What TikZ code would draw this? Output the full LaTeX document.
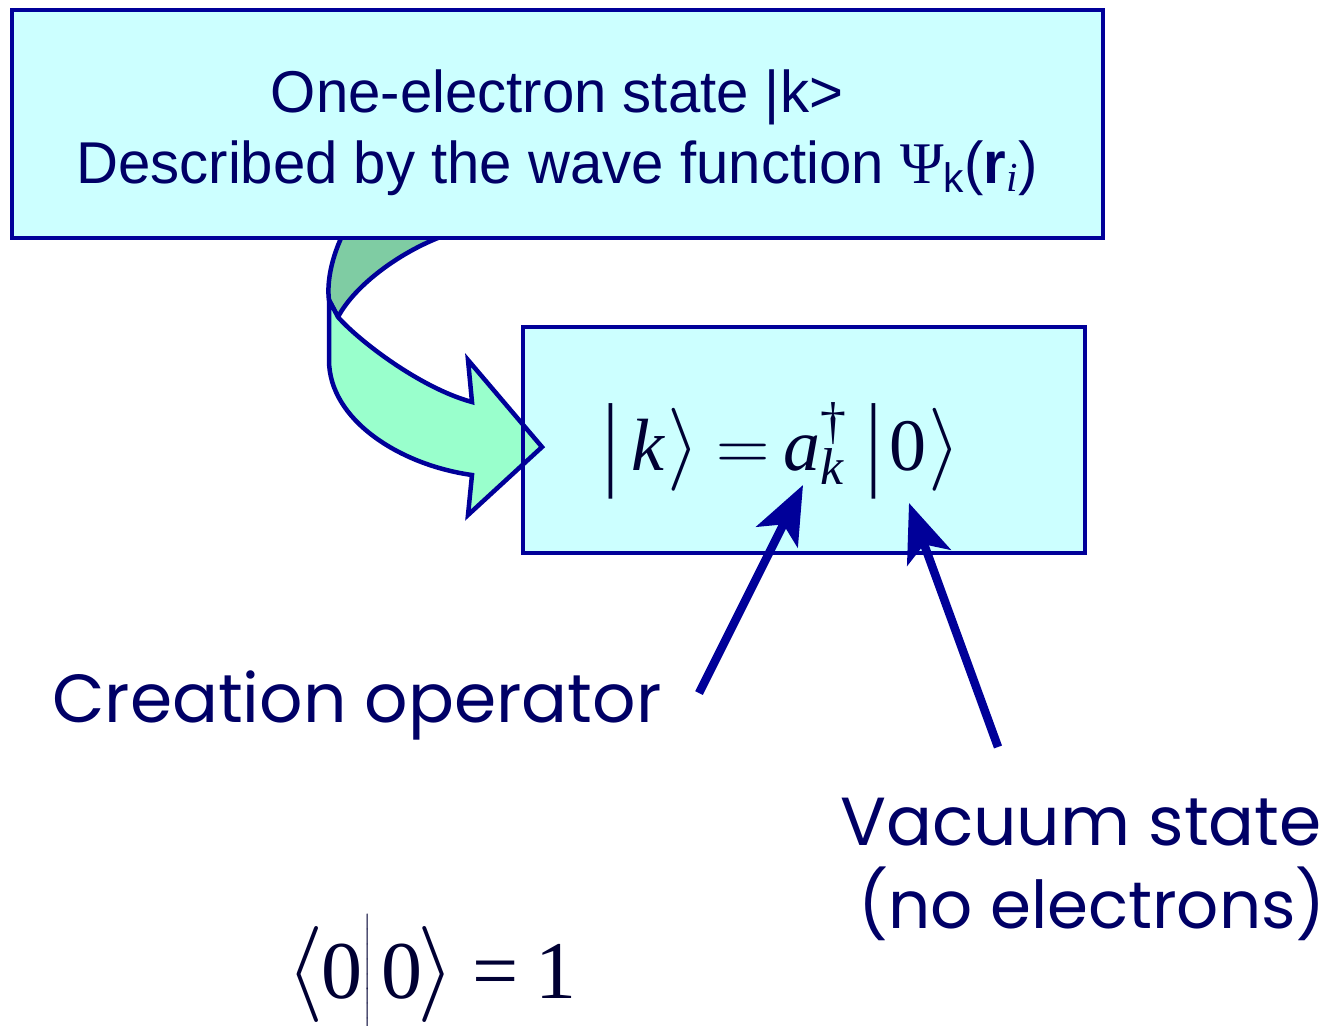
\RequirePackage{fix-cm}
\documentclass[tikz,border=0pt]{standalone}
\usepackage{amsmath}
\usepackage{graphicx}
\usepackage{fontspec}
\setmainfont{Liberation Serif}
\newfontfamily\arialn[FakeStretch=0.985]{Liberation Sans}
\newfontfamily\gothic{Poppins}
\newfontfamily\tms{Liberation Serif}
\usetikzlibrary{arrows.meta}
\definecolor{bordercol}{HTML}{000099}
\definecolor{boxfill}{HTML}{CCFFFF}
\definecolor{txtnavy}{HTML}{000066}
\definecolor{mathcol}{HTML}{000033}
\definecolor{ribbonlight}{HTML}{99FFCC}
\definecolor{ribbondark}{HTML}{7FCCA3}
\newcommand\dl[3]{\mbox{\fontsize{#1}{#1}\selectfont$\left#3\vcenter{\hbox{\rule{0pt}{#2pt}}}\right.$}}
\newcommand\tbar{\raisebox{-6pt}{\scalebox{1}[1.42]{|}}}
\begin{document}
\begin{tikzpicture}[x=1pt,y=-1pt,
  boxst/.style={draw=bordercol,line width=4.5pt,fill=boxfill,outer sep=0pt,inner sep=0pt,rectangle},
  boxline/.style={draw=bordercol,line width=4.5pt},
  ribbon/.style={draw=bordercol,line width=4.5pt,line join=miter},
  ptr/.style={draw=bordercol,line width=8.5pt,-{Stealth[length=58pt,width=46pt,inset=14pt]}},
  toptxt/.style={inner sep=0pt,text=txtnavy,font=\fontsize{59}{70}\arialn},
  lbl/.style={inner sep=0pt,text=txtnavy,font=\fontsize{68}{80}\gothic},
  eqst/.style={inner sep=0pt,text=mathcol}]
\useasboundingbox (0,0) rectangle (1329,1025);
% lower box
\node[boxst,minimum width=562pt,minimum height=226pt] (low) at (804,440) {};
% curved ribbon arrow
\fill[ribbondark,draw=bordercol,line width=4.5pt]
  (342,236) .. controls (330,262) and (327,285) .. (329,300) -- (338,317)
  .. controls (355,285) and (400,252) .. (443,236) -- cycle;
\filldraw[ribbon,fill=ribbonlight]
  (329,300) -- (329,360) .. controls (329,420) and (400,465) .. (472,475)
  -- (468,515) -- (542,447) -- (468,360) -- (472,402)
  .. controls (420,388) and (358,340) .. (338,317) -- cycle;
\draw[boxline] (low.north west) rectangle (low.south east);
% top box
\node[boxst,minimum width=1091pt,minimum height=228pt] (top) at (557.5,124) {};
\node[toptxt,anchor=base] (t1) at (557,112) {One-electron state |k>};
\node[toptxt,anchor=base] (t2) at (557,183) {Described by the wave function {\tms Ψ}\textsubscript{k}(\textbf{r}\textsubscript{\tms\itshape i})};
% equation in lower box
\node[eqst,anchor=base west] (eq1) at (603,470) {\fontsize{74}{84}\selectfont\tms
  \tbar\kern13pt\textit{k}\kern3pt\dl{83}{100}{\rangle}\kern15pt$=$\kern14pt\textit{a}$^{\text{†}}_{\text{\itshape k}}$\kern19pt\tbar\kern9pt0\kern2pt\dl{83}{100}{\rangle}};
% bottom equation
\node[eqst,anchor=base west] (eq2) at (286,998) {\fontsize{82}{90}\selectfont\tms
  \dl{96}{115}{\langle}\kern-3pt0\kern1pt\dl{96}{115}{|}\kern8pt0\kern-5pt\dl{96}{115}{\rangle}\kern17pt=\kern16pt1};
% labels
\node[lbl,anchor=base west] (creat) at (52,722) {Creation operator};
\node[lbl,anchor=base east] (vac1) at (1322,845) {Vacuum state};
\node[lbl,anchor=base east] (vac2) at (1326,928) {\fontsize{66}{80}\selectfont(no electrons)};
% pointer arrows
\coordinate (c1tail) at (699,693);
\coordinate (c1tip) at (803,485);
\coordinate (c2tail) at (998,747);
\coordinate (c2tip) at (909,503);
\draw[ptr] (c1tail) -- (c1tip);
\draw[ptr] (c2tail) -- (c2tip);
\end{tikzpicture}
\end{document}
